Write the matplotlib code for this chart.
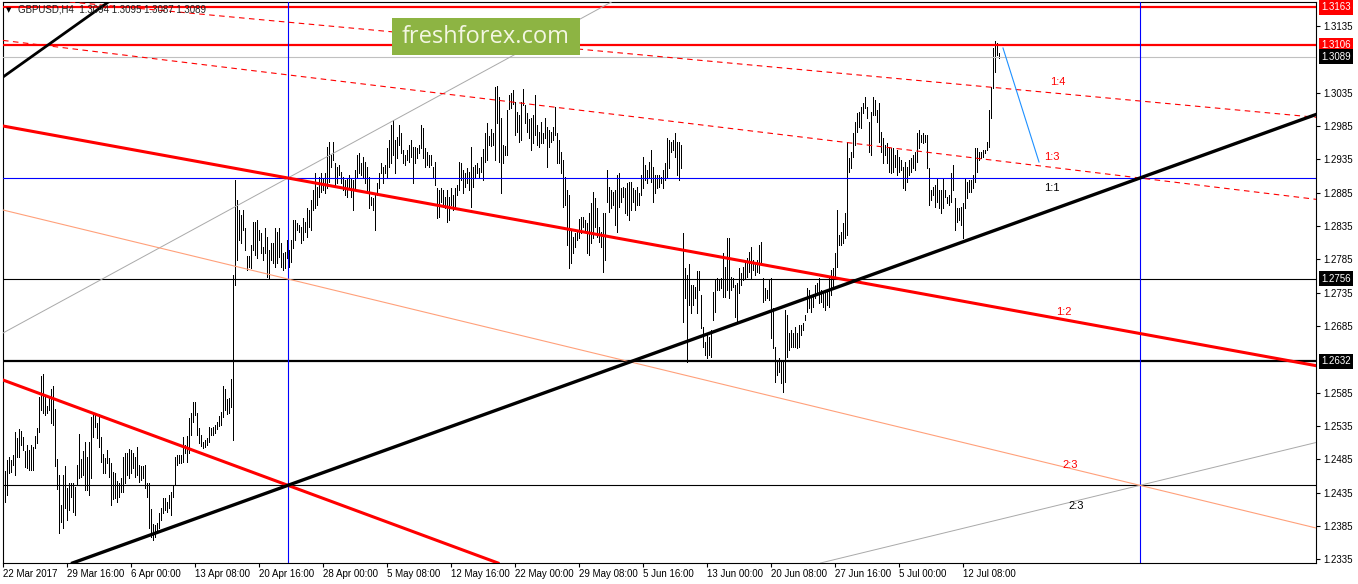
import matplotlib
matplotlib.use("Agg")
import matplotlib.pyplot as plt
from matplotlib.patches import Rectangle
from matplotlib.transforms import blended_transform_factory

# GBPUSD H4, 22 Mar - 14 Jul 2017, one entry per bar
HIGH = [
    1.2505, 1.2468, 1.2484, 1.2489, 1.2484, 1.2492, 1.2526, 1.2517, 1.2531, 1.2528,
    1.2519, 1.2498, 1.2507, 1.2499, 1.2507, 1.2504, 1.2520, 1.2532, 1.2579, 1.2610,
    1.2613, 1.2579, 1.2565, 1.2577, 1.2591, 1.2595, 1.2561, 1.2486, 1.2462, 1.2417,
    1.2462, 1.2475, 1.2442, 1.2450, 1.2450, 1.2450, 1.2444, 1.2477, 1.2523, 1.2486,
    1.2498, 1.2511, 1.2489, 1.2511, 1.2549, 1.2556, 1.2555, 1.2540, 1.2553, 1.2519,
    1.2493, 1.2487, 1.2499, 1.2487, 1.2480, 1.2466, 1.2465, 1.2453, 1.2450, 1.2457,
    1.2489, 1.2495, 1.2495, 1.2501, 1.2499, 1.2495, 1.2489, 1.2504, 1.2477, 1.2475,
    1.2475, 1.2477, 1.2450, 1.2450, 1.2411, 1.2388, 1.2387, 1.2390, 1.2405, 1.2412,
    1.2427, 1.2427, 1.2421, 1.2432, 1.2436, 1.2445, 1.2489, 1.2492, 1.2492, 1.2492,
    1.2519, 1.2507, 1.2520, 1.2547, 1.2555, 1.2571, 1.2571, 1.2555, 1.2532, 1.2522,
    1.2511, 1.2514, 1.2517, 1.2534, 1.2532, 1.2534, 1.2537, 1.2541, 1.2550, 1.2556,
    1.2595, 1.2591, 1.2576, 1.2577, 1.2606, 1.2762,
    1.2904, 1.2874, 1.2859, 1.2852, 1.2859, 1.2832, 1.2790, 1.2790, 1.2807, 1.2841,
    1.2841, 1.2844, 1.2829, 1.2825, 1.2804, 1.2832, 1.2819, 1.2799, 1.2810, 1.2810,
    1.2832, 1.2826, 1.2832, 1.2810, 1.2795, 1.2796, 1.2814, 1.2799, 1.2814, 1.2844,
    1.2844, 1.2840, 1.2837, 1.2834, 1.2847, 1.2841, 1.2862, 1.2859, 1.2874, 1.2889,
    1.2915, 1.2894, 1.2909, 1.2915, 1.2907, 1.2915, 1.2954, 1.2961, 1.2942, 1.2961,
    1.2930, 1.2924, 1.2927, 1.2916, 1.2909, 1.2904, 1.2907, 1.2912, 1.2907, 1.2904,
    1.2919, 1.2942, 1.2945, 1.2930, 1.2939, 1.2931, 1.2924, 1.2909, 1.2879, 1.2877,
    1.2882, 1.2900, 1.2915, 1.2930, 1.2924, 1.2927, 1.2952, 1.2964, 1.2987, 1.2994,
    1.2964, 1.2969, 1.2987, 1.2975, 1.2949, 1.2942, 1.2949, 1.2957, 1.2964, 1.2954,
    1.2954, 1.2952, 1.2957, 1.2987, 1.2982, 1.2952, 1.2946, 1.2942, 1.2942, 1.2924,
    1.2931, 1.2892, 1.2889, 1.2892, 1.2889, 1.2879, 1.2889, 1.2879, 1.2892, 1.2882,
    1.2892, 1.2897, 1.2931, 1.2930, 1.2919, 1.2915, 1.2922, 1.2916, 1.2954, 1.2924,
    1.2927, 1.2930,
    1.2922, 1.2939, 1.2951, 1.2975, 1.2990, 1.2970, 1.2981, 1.2975, 1.3044, 1.3045,
    1.3029, 1.2997, 1.2957, 1.2955, 1.3009, 1.3032, 1.3035, 1.3039, 1.3021, 1.3006,
    1.3002, 1.3021, 1.3041, 1.3017, 1.3005, 1.2996, 1.2997, 1.3002, 1.3032, 1.2987,
    1.2976, 1.2991, 1.2975, 1.2997, 1.2984, 1.2979, 1.2976, 1.2984, 1.3014, 1.2975,
    1.2964, 1.2946, 1.2934, 1.2909, 1.2889, 1.2882, 1.2829, 1.2819, 1.2825, 1.2829,
    1.2846, 1.2849, 1.2849, 1.2844, 1.2840, 1.2855, 1.2870, 1.2886, 1.2877, 1.2862,
    1.2834, 1.2826, 1.2855, 1.2855, 1.2919, 1.2894, 1.2889, 1.2886, 1.2889, 1.2912,
    1.2915, 1.2892, 1.2894, 1.2892, 1.2900, 1.2901, 1.2901, 1.2892, 1.2889, 1.2894,
    1.2885, 1.2912, 1.2939, 1.2927, 1.2919, 1.2931, 1.2949, 1.2924, 1.2912, 1.2912,
    1.2912, 1.2909, 1.2919, 1.2930, 1.2967, 1.2964, 1.2961, 1.2964, 1.2975, 1.2961,
    1.2961, 1.2957,
    1.2825, 1.2772, 1.2762, 1.2778, 1.2747, 1.2747, 1.2744, 1.2768, 1.2768, 1.2732,
    1.2684, 1.2661, 1.2675, 1.2669, 1.2679, 1.2736, 1.2754, 1.2757, 1.2756, 1.2757,
    1.2795, 1.2774, 1.2817, 1.2817, 1.2759, 1.2757, 1.2747, 1.2750, 1.2772, 1.2765,
    1.2774, 1.2784, 1.2787, 1.2796, 1.2804, 1.2784, 1.2781, 1.2784, 1.2807, 1.2811,
    1.2757, 1.2742, 1.2739, 1.2754, 1.2757, 1.2712, 1.2654, 1.2634, 1.2637, 1.2634,
    1.2631, 1.2709, 1.2702, 1.2675, 1.2679, 1.2675, 1.2684, 1.2675, 1.2687, 1.2687,
    1.2690, 1.2702, 1.2742, 1.2739, 1.2727, 1.2732, 1.2747, 1.2750, 1.2757, 1.2739,
    1.2736, 1.2739, 1.2739, 1.2757, 1.2769, 1.2772, 1.2795, 1.2859, 1.2822,
    1.2826, 1.2840, 1.2855, 1.2961, 1.2937, 1.2946, 1.2975, 1.2991, 1.3005, 1.3006,
    1.3014, 1.3020, 1.3029, 1.3014, 1.2991, 1.3006, 1.3029, 1.3024, 1.3009, 1.3020,
    1.2976, 1.2967, 1.2957, 1.2960, 1.2954, 1.2952, 1.2952, 1.2942, 1.2949, 1.2939,
    1.2934, 1.2924, 1.2931, 1.2924, 1.2934, 1.2937, 1.2942, 1.2946, 1.2975, 1.2979,
    1.2972, 1.2975, 1.2972, 1.2972, 1.2922, 1.2889, 1.2894, 1.2897, 1.2907, 1.2889,
    1.2889, 1.2907, 1.2889, 1.2879, 1.2882, 1.2915, 1.2927, 1.2877, 1.2862, 1.2862,
    1.2864, 1.2870, 1.2907, 1.2901, 1.2904, 1.2904, 1.2912, 1.2952, 1.2952, 1.2946,
    1.2946, 1.2949, 1.2949, 1.2961, 1.3009, 1.3044, 1.3102, 1.3113, 1.3110, 1.3095,
]

LOW = [
    1.2451, 1.2421, 1.2432, 1.2465, 1.2466, 1.2477, 1.2462, 1.2489, 1.2489, 1.2507,
    1.2499, 1.2474, 1.2472, 1.2469, 1.2469, 1.2469, 1.2502, 1.2510, 1.2526, 1.2559,
    1.2555, 1.2552, 1.2555, 1.2559, 1.2540, 1.2537, 1.2475, 1.2441, 1.2375, 1.2391,
    1.2382, 1.2412, 1.2394, 1.2409, 1.2429, 1.2406, 1.2402, 1.2447, 1.2457, 1.2459,
    1.2462, 1.2439, 1.2439, 1.2432, 1.2457, 1.2519, 1.2534, 1.2517, 1.2504, 1.2481,
    1.2465, 1.2465, 1.2480, 1.2459, 1.2417, 1.2426, 1.2427, 1.2421, 1.2429, 1.2436,
    1.2436, 1.2450, 1.2462, 1.2457, 1.2465, 1.2472, 1.2459, 1.2462, 1.2451, 1.2454,
    1.2457, 1.2442, 1.2429, 1.2382, 1.2369, 1.2364, 1.2369, 1.2379, 1.2382, 1.2394,
    1.2405, 1.2409, 1.2406, 1.2412, 1.2402, 1.2429, 1.2447, 1.2477, 1.2480, 1.2480,
    1.2481, 1.2495, 1.2481, 1.2495, 1.2522, 1.2541, 1.2552, 1.2522, 1.2510, 1.2505,
    1.2502, 1.2504, 1.2507, 1.2511, 1.2522, 1.2522, 1.2525, 1.2531, 1.2535, 1.2537,
    1.2549, 1.2559, 1.2553, 1.2555, 1.2564, 1.2514,
    1.2747, 1.2784, 1.2814, 1.2810, 1.2829, 1.2799, 1.2769, 1.2774, 1.2772, 1.2799,
    1.2792, 1.2787, 1.2814, 1.2795, 1.2784, 1.2795, 1.2759, 1.2757, 1.2784, 1.2780,
    1.2774, 1.2780, 1.2789, 1.2774, 1.2769, 1.2772, 1.2787, 1.2774, 1.2781, 1.2802,
    1.2814, 1.2829, 1.2826, 1.2810, 1.2814, 1.2826, 1.2819, 1.2834, 1.2829, 1.2859,
    1.2862, 1.2867, 1.2879, 1.2886, 1.2889, 1.2885, 1.2892, 1.2901, 1.2924, 1.2934,
    1.2897, 1.2900, 1.2912, 1.2900, 1.2889, 1.2882, 1.2879, 1.2892, 1.2879, 1.2859,
    1.2892, 1.2907, 1.2915, 1.2912, 1.2909, 1.2900, 1.2886, 1.2862, 1.2867, 1.2859,
    1.2829, 1.2882, 1.2892, 1.2915, 1.2900, 1.2915, 1.2909, 1.2924, 1.2930, 1.2942,
    1.2915, 1.2937, 1.2957, 1.2945, 1.2930, 1.2927, 1.2934, 1.2931, 1.2939, 1.2900,
    1.2930, 1.2937, 1.2945, 1.2952, 1.2937, 1.2924, 1.2927, 1.2924, 1.2927, 1.2907,
    1.2897, 1.2847, 1.2849, 1.2871, 1.2864, 1.2862, 1.2841, 1.2844, 1.2867, 1.2859,
    1.2864, 1.2882, 1.2889, 1.2904, 1.2885, 1.2894, 1.2900, 1.2889, 1.2864, 1.2894,
    1.2907, 1.2915,
    1.2909, 1.2916, 1.2904, 1.2931, 1.2934, 1.2957, 1.2955, 1.2957, 1.2934, 1.2990,
    1.2931, 1.2885, 1.2930, 1.2942, 1.2942, 1.3011, 1.3012, 1.3018, 1.2972, 1.2976,
    1.2961, 1.2964, 1.3017, 1.2990, 1.2976, 1.2967, 1.2949, 1.2960, 1.2972, 1.2957,
    1.2954, 1.2960, 1.2960, 1.2967, 1.2924, 1.2954, 1.2961, 1.2964, 1.2972, 1.2930,
    1.2930, 1.2915, 1.2864, 1.2867, 1.2807, 1.2772, 1.2780, 1.2795, 1.2804, 1.2814,
    1.2817, 1.2825, 1.2834, 1.2829, 1.2795, 1.2792, 1.2810, 1.2817, 1.2834, 1.2819,
    1.2811, 1.2804, 1.2766, 1.2784, 1.2871, 1.2856, 1.2862, 1.2867, 1.2837, 1.2826,
    1.2864, 1.2871, 1.2879, 1.2855, 1.2852, 1.2844, 1.2859, 1.2871, 1.2859, 1.2867,
    1.2867, 1.2882, 1.2892, 1.2904, 1.2900, 1.2909, 1.2901, 1.2871, 1.2885, 1.2892,
    1.2894, 1.2900, 1.2892, 1.2904, 1.2907, 1.2922, 1.2946, 1.2949, 1.2939, 1.2912,
    1.2904, 1.2922,
    1.2691, 1.2727, 1.2631, 1.2717, 1.2705, 1.2717, 1.2727, 1.2705, 1.2739, 1.2682,
    1.2654, 1.2642, 1.2637, 1.2642, 1.2639, 1.2694, 1.2706, 1.2739, 1.2739, 1.2742,
    1.2729, 1.2729, 1.2739, 1.2727, 1.2739, 1.2744, 1.2699, 1.2691, 1.2735, 1.2747,
    1.2754, 1.2757, 1.2759, 1.2766, 1.2757, 1.2769, 1.2762, 1.2766, 1.2765, 1.2781,
    1.2721, 1.2724, 1.2727, 1.2724, 1.2667, 1.2652, 1.2601, 1.2612, 1.2616, 1.2600,
    1.2586, 1.2601, 1.2639, 1.2649, 1.2654, 1.2654, 1.2654, 1.2652, 1.2654, 1.2672,
    1.2679, 1.2694, 1.2706, 1.2712, 1.2706, 1.2714, 1.2727, 1.2736, 1.2720, 1.2721,
    1.2714, 1.2709, 1.2717, 1.2714, 1.2732, 1.2744, 1.2757, 1.2774, 1.2807,
    1.2807, 1.2810, 1.2817, 1.2822, 1.2916, 1.2922, 1.2939, 1.2957, 1.2976, 1.2984,
    1.2982, 1.3005, 1.3012, 1.2997, 1.2946, 1.2942, 1.3002, 1.3002, 1.2991, 1.2961,
    1.2946, 1.2930, 1.2942, 1.2930, 1.2916, 1.2915, 1.2916, 1.2924, 1.2912, 1.2916,
    1.2919, 1.2892, 1.2889, 1.2901, 1.2912, 1.2916, 1.2922, 1.2919, 1.2931, 1.2952,
    1.2961, 1.2960, 1.2961, 1.2922, 1.2867, 1.2874, 1.2882, 1.2864, 1.2871, 1.2862,
    1.2855, 1.2862, 1.2879, 1.2870, 1.2867, 1.2871, 1.2889, 1.2829, 1.2841, 1.2844,
    1.2837, 1.2817, 1.2862, 1.2877, 1.2886, 1.2886, 1.2892, 1.2901, 1.2916, 1.2934,
    1.2937, 1.2939, 1.2945, 1.2949, 1.2954, 1.2997, 1.3042, 1.3066, 1.3092, 1.3087,
]

TICK_BARS = [0, 32, 64, 96, 128, 160, 192, 224, 256, 288, 320, 352, 384, 416, 448, 480]
TICK_LABELS = ["22 Mar 2017", "29 Mar 16:00", "6 Apr 00:00", "13 Apr 08:00",
               "20 Apr 16:00", "28 Apr 00:00", "5 May 08:00", "12 May 16:00",
               "22 May 00:00", "29 May 08:00", "5 Jun 16:00", "13 Jun 00:00",
               "20 Jun 08:00", "27 Jun 16:00", "5 Jul 00:00", "12 Jul 08:00"]
PRICE_TICKS = [1.3135, 1.3035, 1.2985, 1.2935, 1.2885, 1.2835, 1.2785, 1.2735,
               1.2685, 1.2585, 1.2535, 1.2485, 1.2435, 1.2385, 1.2335]

# horizontal levels
RED_LEVELS = [1.3163, 1.3106]
LAST_PRICE = 1.3089
BLUE_LEVEL = 1.2907
BLACK_THIN = [1.2756, 1.2446]
BLACK_THICK = 1.2632
V_BARS = [142.3, 568.3]

# drawn lines, each given by two (bar, price) anchors
BLACK_TREND = ((142.3, 1.2446), (568.3, 1.2907))
BLACK_STEEP = ((-0.15, 1.30585), (51.85, 1.31695))
GRAY_UP = ((-0.15, 1.26745), (142.3, 1.2907))
GRAY_LOW = ((568.3, 1.2446), (655.35, 1.25095))
RED_MAIN = ((-0.15, 1.2985), (142.3, 1.2907))
RED_LOW = ((-0.15, 1.2604), (142.3, 1.2446))
SALMON = ((-0.15, 1.2859), (568.3, 1.2446))
DASH_13 = ((-0.15, 1.31134), (568.3, 1.2907))
DASH_14 = ((168.35, 1.31335), (568.35, 1.30225))
ARROW = ([499.85, 517.85], [1.3102, 1.2931])

FAN_LABELS = [("1:4", 527.3, 1.3051, "red"), ("1:3", 524.3, 1.29385, "red"),
              ("1:1", 524.3, 1.2892, "black"), ("1:2", 530.3, 1.2706, "red"),
              ("2:3", 533.3, 1.24765, "red"), ("2:3", 536.3, 1.2415, "black")]

W, H = 1358, 584
fig = plt.figure(figsize=(W / 100, H / 100), dpi=100)
ax = fig.add_axes([3 / W, 21 / H, 1313 / W, 561 / H])
ax.set_xlim(-0.15, 656.35)
ax.set_ylim(1.23295, 1.3171)

ax.vlines(range(len(HIGH)), LOW, HIGH, colors="black", linewidth=0.5,
          antialiased=False, zorder=2)

for lv in RED_LEVELS:
    ax.axhline(lv, color="#ff0000", lw=1.6, zorder=3)
ax.axhline(LAST_PRICE, color="#c0c0c0", lw=0.8, zorder=3)
ax.axhline(BLUE_LEVEL, color="#0000ff", lw=0.8, zorder=3)
for lv in BLACK_THIN:
    ax.axhline(lv, color="black", lw=0.8, zorder=3)
ax.axhline(BLACK_THICK, color="black", lw=1.6, zorder=3)
for vb in V_BARS:
    ax.axvline(vb, color="#0000ff", lw=0.8, zorder=3)

ax.axline(*GRAY_UP, color="#a9a9a9", lw=0.7, zorder=3)
ax.axline(*GRAY_LOW, color="#a9a9a9", lw=0.7, zorder=3)
ax.axline(*SALMON, color="#ffa07a", lw=0.8, zorder=3)
ax.axline(*DASH_13, color="#ff0000", lw=0.8, ls=(0, (5, 4)), zorder=3)
ax.axline(*DASH_14, color="#ff0000", lw=0.8, ls=(0, (5, 4)), zorder=3)
ax.axline(*RED_MAIN, color="#ff0000", lw=2.2, zorder=4)
ax.axline(*RED_LOW, color="#ff0000", lw=2.2, zorder=4)
ax.axline(*BLACK_TREND, color="black", lw=2.4, zorder=4)
ax.axline(*BLACK_STEEP, color="black", lw=2.0, zorder=4)
ax.plot(*ARROW, color="#1e90ff", lw=0.8, zorder=4)

for txt, bx, py, col in FAN_LABELS:
    ax.text(bx, py, txt, color=col, fontsize=8, family="Liberation Sans",
            ha="center", va="center", zorder=5)

# axes styling
for sp in ax.spines.values():
    sp.set_linewidth(0.8)
    sp.set_color("black")
ax.yaxis.tick_right()
ax.set_yticks(PRICE_TICKS)
ax.set_yticklabels([f"{v:.4f}" for v in PRICE_TICKS])
ax.set_xticks(TICK_BARS)
ax.set_xticklabels(TICK_LABELS)
for lbl in ax.get_xticklabels():
    lbl.set_horizontalalignment("left")
for lbl in ax.get_xticklabels() + ax.get_yticklabels():
    lbl.set_family("Liberation Sans")
ax.tick_params(axis="y", direction="out", length=3, width=0.8, labelsize=7, pad=2)
ax.tick_params(axis="x", direction="out", length=3, width=0.8, labelsize=7, pad=1.5)

# price boxes on the right scale
tr = blended_transform_factory(ax.transAxes, ax.transData)
for price, fc in [(1.3163, "#ff0000"), (1.3106, "#ff0000"), (LAST_PRICE, "black"),
                  (1.2756, "black"), (BLACK_THICK, "black")]:
    ax.text(1.0038, price, f"{price:.4f}", transform=tr, color="white", fontsize=7,
            family="Liberation Sans", ha="left", va="center", clip_on=False,
            bbox=dict(boxstyle="square,pad=0.25", fc=fc, ec="none"), zorder=6)

# header
fig.text(9 / W, 1 - 10 / H, "\u25bc", fontsize=5, ha="center", va="center", color="black")
fig.text(18 / W, 1 - 10 / H, "GBPUSD,H4  1.3094 1.3095 1.3087 1.3089", fontsize=7,
         family="Liberation Sans", ha="left", va="center", color="#202020")

# watermark
fig.add_artist(Rectangle((392 / W, 1 - 55 / H), 188 / W, 37 / H, transform=fig.transFigure,
                         facecolor="#8db443", edgecolor="none", zorder=10))
fig.text(486 / W, 1 - 37 / H, "freshforex.com", fontsize=17, family="Open Sans",
         color="#f3f6e2", ha="center", va="center", zorder=11)

fig.savefig("out.png", dpi=100)
